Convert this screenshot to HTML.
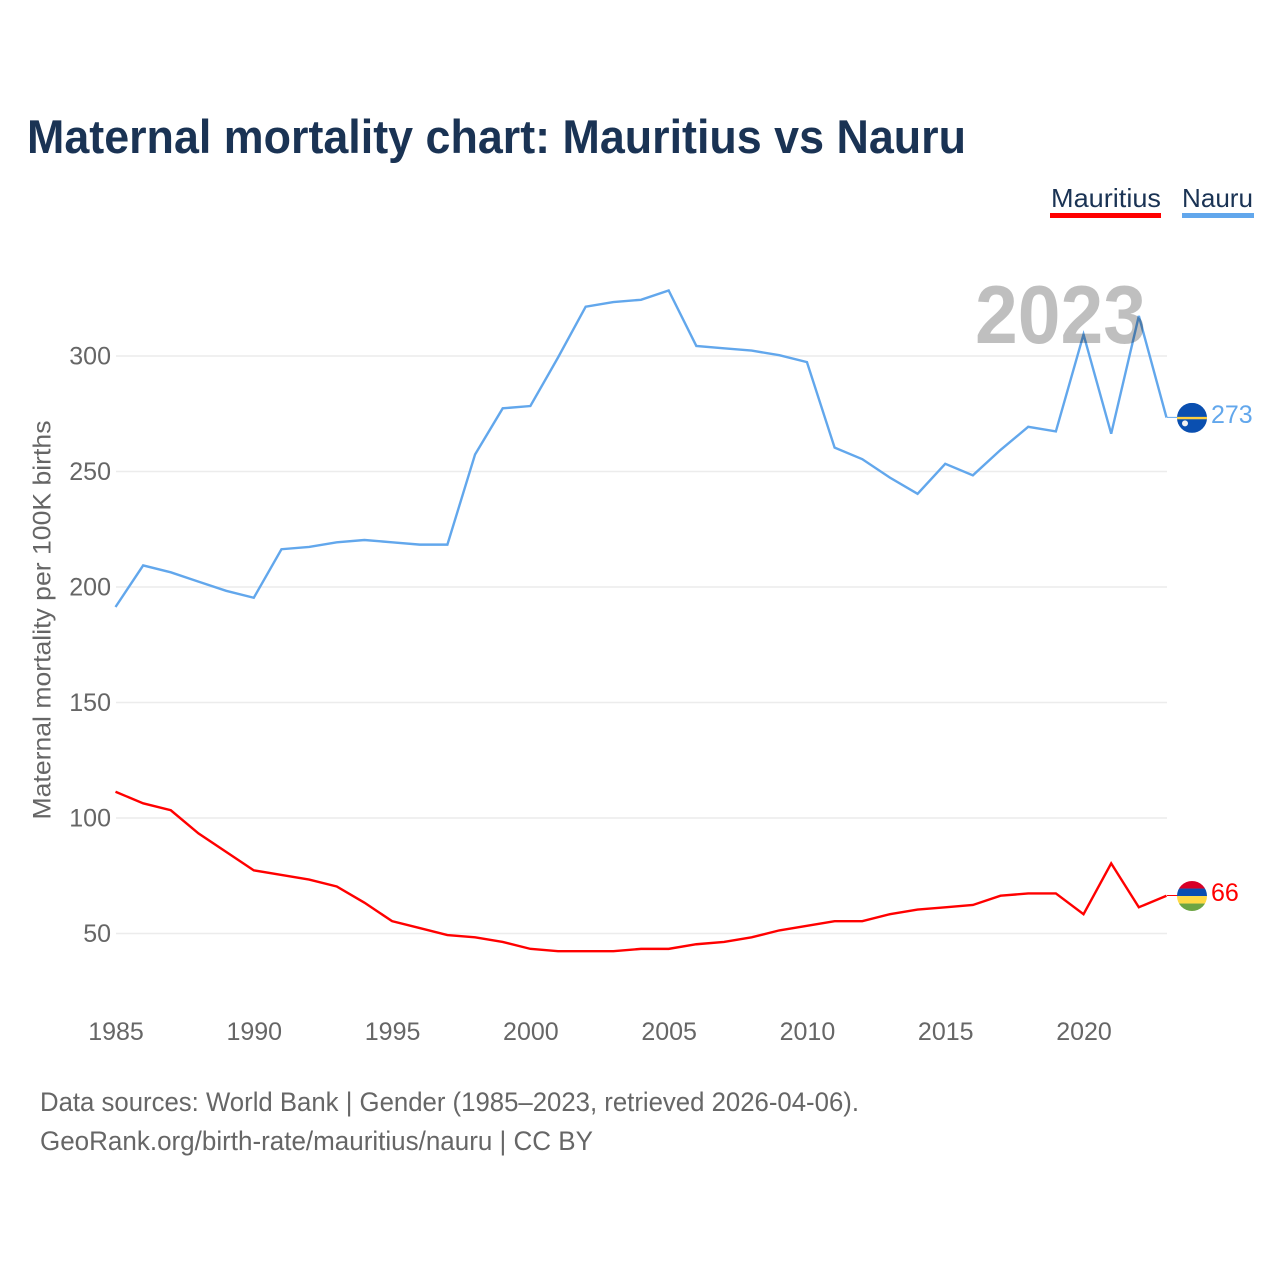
<!DOCTYPE html>
<html lang="en">
<head>
<meta charset="utf-8">
<title>Maternal mortality chart: Mauritius vs Nauru</title>
<style>
html,body{margin:0;padding:0;background:#fff;}
svg{display:block;font-family:"Liberation Sans",Arial,sans-serif;}
</style>
</head>
<body>
<svg id="chart" xmlns="http://www.w3.org/2000/svg" width="1280" height="1280" viewBox="0 0 1280 1280">
  <defs>
    <clipPath id="nauru-clip"><circle id="nauru-clip-circle" cx="1192" cy="418" r="15"></circle></clipPath>
    <clipPath id="mauritius-clip"><circle id="mauritius-clip-circle" cx="1192" cy="896" r="15"></circle></clipPath>
  </defs>
  <rect x="0" y="0" width="1280" height="1280" fill="#ffffff"></rect>
  <text x="27" y="153" font-size="47" font-weight="700" fill="#1a3354" textLength="939" lengthAdjust="spacingAndGlyphs">Maternal mortality chart: Mauritius vs Nauru</text>

  <g>
    <g>
      <text x="1051" y="207" font-size="26" fill="#1a3354" textLength="110" lengthAdjust="spacingAndGlyphs">Mauritius</text>
      <rect x="1050" y="213" width="111" height="5" fill="#ff0000"></rect>
    </g>
    <g>
      <text x="1182" y="207" font-size="26" fill="#1a3354" textLength="71" lengthAdjust="spacingAndGlyphs">Nauru</text>
      <rect x="1182" y="213" width="72" height="5" fill="#62a7ec"></rect>
    </g>
  </g>

  <g id="grid"></g>
  <g id="y-ticks"></g>
  <g id="x-ticks"></g>
  <text transform="translate(50.5,620) rotate(-90)" text-anchor="middle" font-size="25" fill="#666666" textLength="399" lengthAdjust="spacingAndGlyphs">Maternal mortality per 100K births</text>
  <g id="series"></g>
  <text x="975" y="343" font-size="83" font-weight="700" fill="#000000" fill-opacity="0.25" textLength="171" lengthAdjust="spacingAndGlyphs">2023</text>
  <g id="end-markers"></g>

  <text x="40" y="1111" font-size="27" fill="#666666" textLength="819" lengthAdjust="spacingAndGlyphs">Data sources: World Bank | Gender (1985–2023, retrieved 2026-04-06).</text>
  <text x="40" y="1150" font-size="27" fill="#666666" textLength="553" lengthAdjust="spacingAndGlyphs">GeoRank.org/birth-rate/mauritius/nauru | CC BY</text>
</svg>
<script>
const years = [1985,1986,1987,1988,1989,1990,1991,1992,1993,1994,1995,1996,1997,1998,1999,2000,2001,2002,2003,2004,2005,2006,2007,2008,2009,2010,2011,2012,2013,2014,2015,2016,2017,2018,2019,2020,2021,2022,2023];
const nauruValues = [191,209,206,202,198,195,216,217,219,220,219,218,218,257,277,278,299,321,323,324,328,304,303,302,300,297,260,255,247,240,253,248,259,269,267,309,266,317,273];
const mauritiusValues = [111,106,103,93,85,77,75,73,70,63,55,52,49,48,46,43,42,42,42,43,43,45,46,48,51,53,55,55,58,60,61,62,66,67,67,58,80,61,66];
const yTickLabels = [50,100,150,200,250,300];
const xTickLabels = [1985,1990,1995,2000,2005,2010,2015,2020];

const NS = 'http://www.w3.org/2000/svg';
function xScale(year){ return 116 + (year - 1985) * (1051 / 38); }
function yScale(value){ return 933.5 - (value - 50) * 2.31; }
function make(tag, parent, attrs){
  const el = document.createElementNS(NS, tag);
  Object.keys(attrs).forEach(function(k){ el.setAttribute(k, attrs[k]); });
  parent.appendChild(el);
  return el;
}

const grid = document.getElementById('grid');
const yTicks = document.getElementById('y-ticks');
yTickLabels.forEach(function(v){
  const line = make('line', grid, {x1:116, x2:1167, y1:yScale(v), y2:yScale(v), stroke:'#ececec', 'stroke-width':1.6});
  
  
  const label = make('text', yTicks, {x:111, y:yScale(v)+8.5, 'text-anchor':'end', 'font-size':25, fill:'#666666'});
  
  
  label.textContent = v;
});

const xTicks = document.getElementById('x-ticks');
xTickLabels.forEach(function(year){
  const label = make('text', xTicks, {x:xScale(year), y:1040, 'text-anchor':'middle', 'font-size':25, fill:'#666666'});
  
  
  label.textContent = year;
});

function points(values){
  return values.map(function(v, i){ return (xScale(years[i]) - 0.5).toFixed(2) + ',' + (yScale(v) - 0.8).toFixed(2); }).join(' ');
}
const seriesLayer = document.getElementById('series');
const nauruLine = make('polyline', seriesLayer, {points:points(nauruValues), fill:'none', stroke:'#62a7ec', 'stroke-width':2.4, 'stroke-linejoin':'miter'});


const mauritiusLine = make('polyline', seriesLayer, {points:points(mauritiusValues), fill:'none', stroke:'#ff0000', 'stroke-width':2.4, 'stroke-linejoin':'miter'});



const markers = document.getElementById('end-markers');
const endX = xScale(years[years.length - 1]);
const flagX = 1192;
const labelX = 1211;

const nauruLast = nauruValues[nauruValues.length - 1];
const nauruY = yScale(nauruLast);
const mauritiusLast = mauritiusValues[mauritiusValues.length - 1];
const mauritiusY = yScale(mauritiusLast);
document.getElementById('nauru-clip-circle').setAttribute('cy', nauruY - 0.5);
document.getElementById('mauritius-clip-circle').setAttribute('cy', mauritiusY - 0.5);

const nauruLeader = make('line', markers, {x1:endX, x2:flagX, y1:nauruY - 1, y2:nauruY - 1, stroke:'#62a7ec', 'stroke-width':1});


const nauruFlag = make('g', markers, {'clip-path':'url(#nauru-clip)'});


make('rect', nauruFlag, {x:flagX-15, y:nauruY-15.5, width:30, height:30, fill:'#0a4fb0'});
make('rect', nauruFlag, {x:flagX-15, y:nauruY-1.5, width:30, height:2.4, fill:'#ffd040'});
make('circle', nauruFlag, {cx:flagX-7, cy:nauruY+5, r:3, fill:'#f2f2f2'});
const nauruValueLabel = make('text', markers, {x:labelX, y:nauruY+4.5, 'font-size':25, fill:'#62a7ec'});


nauruValueLabel.textContent = nauruLast;

const mauritiusLeader = make('line', markers, {x1:endX, x2:flagX, y1:mauritiusY - 1, y2:mauritiusY - 1, stroke:'#ff0000', 'stroke-width':1});


const mauritiusFlag = make('g', markers, {'clip-path':'url(#mauritius-clip)'});


['#d80027','#0a4fb0','#ffda44','#6da544'].forEach(function(color, i){
  make('rect', mauritiusFlag, {x:flagX-15, y:mauritiusY-15.5+i*7.5, width:30, height:7.6, fill:color});
});
const mauritiusValueLabel = make('text', markers, {x:labelX, y:mauritiusY+4.5, 'font-size':25, fill:'#ff0000'});


mauritiusValueLabel.textContent = mauritiusLast;
</script>
</body>
</html>
